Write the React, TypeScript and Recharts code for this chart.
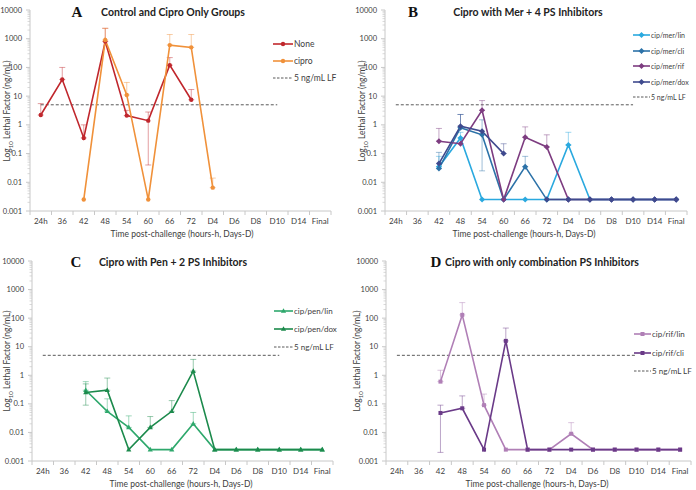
import React from "react";
import { LineChart, Line, XAxis, YAxis, ErrorBar } from "recharts";

type Num = number | null;

const categories = ["24h", "36", "42", "48", "54", "60", "66", "72", "D4", "D6", "D8", "D10", "D14", "Final"];
const majorTicks = [0.001, 0.01, 0.1, 1, 10, 100, 1000, 10000];
const minorSteps = [2, 3, 4, 5, 6, 7, 8, 9];
const lfThreshold: Num[] = [5, 5, 5, 5, 5, 5, 5, 5, 5, 5, 5, 5, null, null];
const _ = null;

// panel A
const noneValues: Num[] = [2.2, 38, 0.35, 800, 2.1, 1.4, 120, 7.5, _, _, _, _, _, _];
const noneUpper: Num[] = [5.5, 100, 1.0, 2300, 3.2, 2.8, 220, 17, _, _, _, _, _, _];
const noneLower: Num[] = [_, _, _, _, _, 0.04, _, _, _, _, _, _, _, _];
const ciproValues: Num[] = [_, _, 0.0025, 900, 11, 0.0025, 600, 500, 0.0065, _, _, _, _, _];
const ciproUpper: Num[] = [_, _, _, 2300, 30, _, 1400, 1400, 0.014, _, _, _, _, _];

// panel B
const merLinValues: Num[] = [_, _, 0.035, 0.35, 0.0025, 0.0025, 0.0025, 0.0025, 0.2, 0.0025, 0.0025, 0.0025, 0.0025, 0.0025];
const merLinUpper: Num[] = [_, _, 0.08, 0.55, _, _, _, _, 0.55, _, _, _, _, _];
const merCliValues: Num[] = [_, _, 0.03, 0.8, 0.45, 0.0025, 0.035, 0.0025, 0.0025, 0.0025, 0.0025, 0.0025, 0.0025, 0.0025];
const merCliUpper: Num[] = [_, _, 0.11, 2.3, 1.5, _, 0.08, _, _, _, _, _, _, _];
const merCliLower: Num[] = [_, _, _, _, 0.025, _, _, _, _, _, _, _, _, _];
const merRifValues: Num[] = [_, _, 0.27, 0.22, 3.2, 0.0025, 0.37, 0.17, 0.0025, 0.0025, 0.0025, 0.0025, 0.0025, 0.0025];
const merRifUpper: Num[] = [_, _, 0.75, _, 7, _, 0.85, 0.45, _, _, _, _, _, _];
const merDoxValues: Num[] = [_, _, 0.045, 0.9, 0.6, 0.1, _, 0.0025, 0.0025, 0.0025, 0.0025, 0.0025, 0.0025, 0.0025];
const merDoxUpper: Num[] = [_, _, _, 2.3, _, 0.22, _, _, _, _, _, _, _, _];

// panel C
const penLinValues: Num[] = [_, _, 0.3, 0.055, 0.015, 0.0025, 0.0025, 0.02, 0.0025, 0.0025, 0.0025, 0.0025, 0.0025, 0.0025];
const penLinUpper: Num[] = [_, _, 0.6, 0.15, 0.038, _, _, 0.05, _, _, _, _, _, _];
const penDoxValues: Num[] = [_, _, 0.25, 0.3, 0.0025, 0.015, 0.055, 1.4, 0.0025, 0.0025, 0.0025, 0.0025, 0.0025, 0.0025];
const penDoxUpper: Num[] = [_, _, 0.5, 0.8, _, 0.036, 0.13, 3.6, _, _, _, _, _, _];
const penDoxLower: Num[] = [_, _, 0.09, _, _, _, _, _, _, _, _, _, _, _];

// panel D
const rifLinValues: Num[] = [_, _, 0.6, 130, 0.09, 0.0025, 0.0025, 0.0025, 0.009, 0.0025, 0.0025, 0.0025, 0.0025, 0.0025];
const rifLinUpper: Num[] = [_, _, 1.5, 350, 0.22, _, _, _, 0.022, _, _, _, _, _];
const rifCliValues: Num[] = [_, _, 0.048, 0.07, 0.0025, 16, 0.0025, 0.0025, 0.0025, 0.0025, 0.0025, 0.0025, 0.0025, 0.0025];
const rifCliUpper: Num[] = [_, _, 0.09, 0.19, _, 45, _, _, _, _, _, _, _, _];
const rifCliLower: Num[] = [_, _, 0.002, _, _, _, _, _, _, _, _, _, _, _];

type Shape = "circle" | "diamond" | "triangle" | "square";

interface Series {
  key: string;
  name: string;
  color: string;
  shape: Shape;
  values: Num[];
  upper: Num[];
  lower?: Num[];
}

interface PanelSpec {
  letter: string;
  title: string;
  series: Series[];
  left: number;
  top: number;
  L: number;
  T: number;
  W: number;
  H: number;
  letterX: number;
  titleX: number;
  headY: number;
  legendX: number;
  legendY: number;
  legendGap: number;
  legendFont: number;
  legendLine: number;
  yLabelX: number;
  xLabelX: number;
  xLabelY: number;
}

const FONT = "Lato, 'Open Sans', sans-serif";
const AXIS = "#c8c8c8";
const TEXT = "#404040";

const panels: PanelSpec[] = [
  {
    letter: "A", title: "Control and Cipro Only Groups",
    series: [
      { key: "none", name: "None", color: "#c0272d", shape: "circle", values: noneValues, upper: noneUpper, lower: noneLower },
      { key: "cipro", name: "cipro", color: "#f0913a", shape: "circle", values: ciproValues, upper: ciproUpper },
    ],
    left: 0, top: 0, L: 30, T: 10, W: 301, H: 201,
    letterX: 77, titleX: 173, headY: 12, legendX: 273, legendY: 44, legendGap: 17, legendFont: 8.5, legendLine: 20,
    yLabelX: 8, xLabelX: 182, xLabelY: 234,
  },
  {
    letter: "B", title: "Cipro with Mer + 4 PS Inhibitors",
    series: [
      { key: "merLin", name: "cip/mer/lin", color: "#2aa9df", shape: "diamond", values: merLinValues, upper: merLinUpper },
      { key: "merCli", name: "cip/mer/cli", color: "#2c72a8", shape: "diamond", values: merCliValues, upper: merCliUpper, lower: merCliLower },
      { key: "merRif", name: "cip/mer/rif", color: "#7d3c80", shape: "diamond", values: merRifValues, upper: merRifUpper },
      { key: "merDox", name: "cip/mer/dox", color: "#3f4a8e", shape: "diamond", values: merDoxValues, upper: merDoxUpper },
    ],
    left: 348, top: 0, L: 37, T: 10, W: 302, H: 201,
    letterX: 65, titleX: 180, headY: 12, legendX: 285, legendY: 35, legendGap: 15.5, legendFont: 7, legendLine: 17,
    yLabelX: 15, xLabelX: 176, xLabelY: 234,
  },
  {
    letter: "C", title: "Cipro with Pen + 2 PS Inhibitors",
    series: [
      { key: "penLin", name: "cip/pen/lin", color: "#2ea86c", shape: "triangle", values: penLinValues, upper: penLinUpper },
      { key: "penDox", name: "cip/pen/dox", color: "#1c8a4c", shape: "triangle", values: penDoxValues, upper: penDoxUpper, lower: penDoxLower },
    ],
    left: 0, top: 245, L: 32, T: 16, W: 301, H: 200,
    letterX: 76, titleX: 173, headY: 17, legendX: 274, legendY: 66, legendGap: 18, legendFont: 8, legendLine: 19,
    yLabelX: 8, xLabelX: 181, xLabelY: 239,
  },
  {
    letter: "D", title: "Cipro with only combination PS Inhibitors",
    series: [
      { key: "rifLin", name: "cip/rif/lin", color: "#b07fb6", shape: "square", values: rifLinValues, upper: rifLinUpper },
      { key: "rifCli", name: "cip/rif/cli", color: "#6a3a88", shape: "square", values: rifCliValues, upper: rifCliUpper, lower: rifCliLower },
    ],
    left: 348, top: 245, L: 38, T: 16, W: 305, H: 200,
    letterX: 88, titleX: 194, headY: 17, legendX: 286, legendY: 89, legendGap: 18.5, legendFont: 8, legendLine: 17,
    yLabelX: 10, xLabelX: 189, xLabelY: 239,
  },
];

const yTicks = [
  ...majorTicks,
  ...majorTicks.slice(0, -1).flatMap((d) => minorSteps.map((m) => +(d * m).toPrecision(3))),
].sort((a, b) => a - b);

function Marker({ shape, x, y, color }: { shape: Shape; x: number; y: number; color: string }) {
  if (shape === "circle") return <circle cx={x} cy={y} r={2.2} fill={color} />;
  if (shape === "diamond")
    return <polygon points={`${x},${y - 3} ${x + 3},${y} ${x},${y + 3} ${x - 3},${y}`} fill={color} />;
  if (shape === "triangle")
    return <polygon points={`${x},${y - 2.8} ${x + 2.6},${y + 1.8} ${x - 2.6},${y + 1.8}`} fill={color} />;
  return <rect x={x - 2} y={y - 2} width={4} height={4} fill={color} />;
}

function buildRows(series: Series[]) {
  return categories.map((cat, i) => {
    const row: Record<string, any> = { cat, lf: lfThreshold[i] };
    series.forEach((s) => {
      const v = s.values[i];
      row[s.key] = v;
      const up = s.upper[i];
      const lo = s.lower ? s.lower[i] : null;
      if (v != null && (up != null || lo != null)) {
        row[s.key + "Err"] = [lo != null ? v - lo : 0, up != null ? up - v : 0];
      }
    });
    return row;
  });
}

function Panel({ p }: { p: PanelSpec }) {
  const data = buildRows(p.series);
  const step = p.W / categories.length;
  const axisY = p.T + p.H;

  const YTick = (props: any) => {
    const v = props.payload.value;
    const y = props.y;
    const major = majorTicks.some((m) => Math.abs(m - v) / m < 1e-6);
    return (
      <g>
        <line x1={p.L - (major ? 4 : 2.5)} x2={p.L} y1={y} y2={y} stroke={AXIS} strokeWidth={major ? 1 : 0.7} />
        {major && (
          <text x={p.L - 8} y={y} dy="0.35em" textAnchor="end" fontSize={7.5} fill={TEXT} fontFamily={FONT}>
            {String(v)}
          </text>
        )}
      </g>
    );
  };

  const XTick = (props: any) => {
    const x = props.x;
    const last = props.index === categories.length - 1;
    return (
      <g>
        <line x1={x - step / 2} x2={x - step / 2} y1={axisY} y2={axisY + 4} stroke={AXIS} />
        {last && <line x1={x + step / 2} x2={x + step / 2} y1={axisY} y2={axisY + 4} stroke={AXIS} />}
        <text x={x} y={axisY + 13} textAnchor="middle" fontSize={8} fill={TEXT} fontFamily={FONT}>
          {props.payload.value}
        </text>
      </g>
    );
  };

  const legendItems = [
    ...p.series.map((s) => ({ name: s.name, color: s.color, shape: s.shape as Shape | null, dashed: false })),
    { name: "5 ng/mL LF", color: "#595959", shape: null, dashed: true },
  ];

  return (
    <div style={{ position: "absolute", left: p.left, top: p.top, width: 348, height: 245, fontFamily: FONT, color: TEXT }}>
      <LineChart
        width={348}
        height={245}
        data={data}
        margin={{ top: p.T, left: 0, right: 348 - p.L - p.W, bottom: 0 }}
      >
        <XAxis
          dataKey="cat"
          height={245 - p.T - p.H}
          padding={{ left: step / 2, right: step / 2 }}
          interval={0}
          tickLine={false}
          axisLine={{ stroke: AXIS }}
          tick={<XTick />}
        />
        <YAxis
          type="number"
          scale="log"
          domain={[0.001, 10000]}
          allowDataOverflow
          ticks={yTicks}
          interval={0}
          width={p.L}
          tickLine={false}
          axisLine={{ stroke: AXIS }}
          tick={<YTick />}
        />
        <Line
          dataKey="lf"
          stroke="#595959"
          strokeWidth={1}
          strokeDasharray="3 2"
          dot={false}
          isAnimationActive={false}
        />
        {p.series.map((s) => (
          <Line
            key={s.key}
            dataKey={s.key}
            name={s.name}
            stroke={s.color}
            strokeWidth={1.6}
            isAnimationActive={false}
            activeDot={false}
            dot={(d: any) =>
              d.cx == null || d.cy == null || d.value == null ? (
                <g key={d.index} />
              ) : (
                <Marker key={d.index} shape={s.shape} x={d.cx} y={d.cy} color={s.color} />
              )
            }
          >
            <ErrorBar
              dataKey={s.key + "Err"}
              direction="y"
              width={3}
              stroke={s.color}
              strokeOpacity={0.45}
              strokeWidth={1}
              isAnimationActive={false}
            />
          </Line>
        ))}
      </LineChart>

      <div style={{ position: "absolute", left: p.letterX, top: p.headY, transform: "translate(-50%,-50%)", fontFamily: "'Liberation Serif', serif", fontWeight: 700, fontSize: 15, color: "#111" }}>
        {p.letter}
      </div>
      <div style={{ position: "absolute", left: p.titleX, top: p.headY, transform: "translate(-50%,-50%)", fontWeight: 700, fontSize: 10.5, whiteSpace: "nowrap", color: "#222" }}>
        {p.title}
      </div>

      {legendItems.map((it, i) => (
        <div key={it.name} style={{ position: "absolute", left: p.legendX, top: p.legendY + i * p.legendGap, transform: "translateY(-50%)", display: "flex", alignItems: "center", fontSize: p.legendFont, whiteSpace: "nowrap" }}>
          <svg width={p.legendLine} height={8} style={{ display: "block" }}>
            <line x1={0} x2={p.legendLine} y1={4} y2={4} stroke={it.color} strokeWidth={it.dashed ? 1 : 1.6} strokeDasharray={it.dashed ? "2.5 1.5" : undefined} />
            {it.shape && <Marker shape={it.shape} x={p.legendLine / 2} y={4} color={it.color} />}
          </svg>
          <span style={{ marginLeft: 1 }}>{it.name}</span>
        </div>
      ))}

      <div style={{ position: "absolute", left: p.yLabelX, top: p.T + p.H / 2, transform: "translate(-50%,-50%) rotate(-90deg)", fontSize: 8.5, whiteSpace: "nowrap" }}>
        Log<sub style={{ fontSize: 6 }}>10</sub> Lethal Factor (ng/mL)
      </div>
      <div style={{ position: "absolute", left: p.xLabelX, top: p.xLabelY, transform: "translate(-50%,-50%)", fontSize: 8.5, whiteSpace: "nowrap" }}>
        Time post-challenge (hours-h, Days-D)
      </div>
    </div>
  );
}

export default function App() {
  return (
    <div style={{ position: "absolute", left: 0, top: 0, width: 696, height: 490, background: "#fff" }}>
      {panels.map((p) => (
        <Panel key={p.letter} p={p} />
      ))}
    </div>
  );
}
